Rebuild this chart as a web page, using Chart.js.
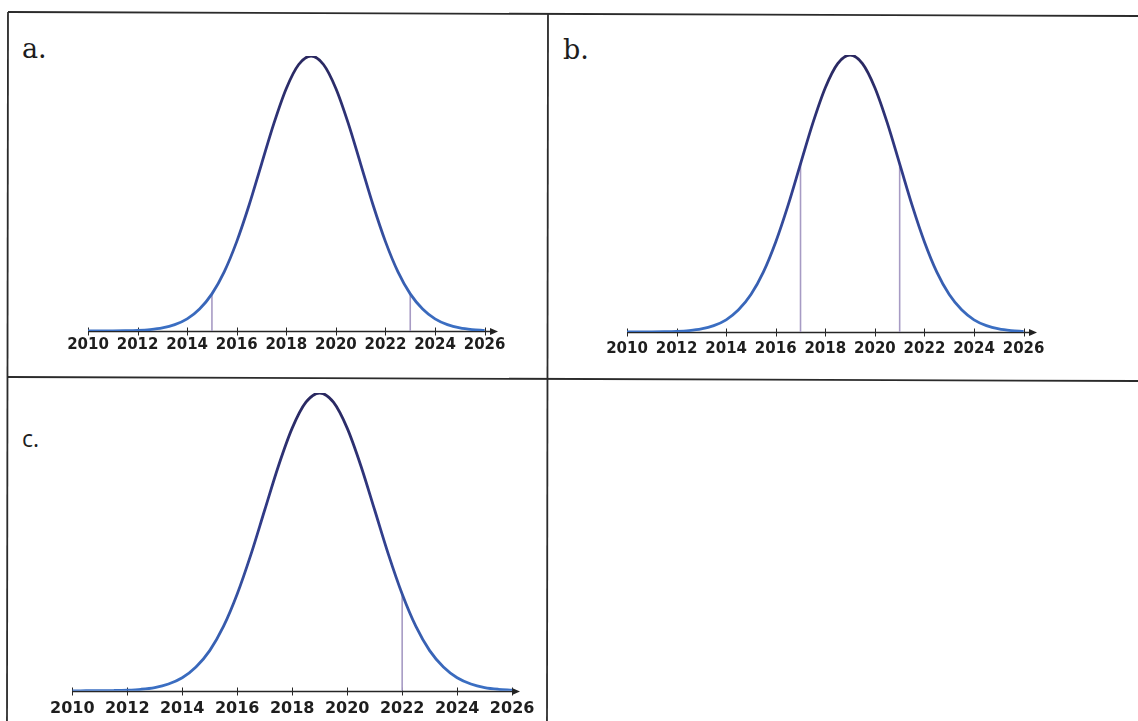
<!DOCTYPE html>
<html>
<head>
<meta charset="utf-8">
<script src="https://cdn.jsdelivr.net/npm/chart.js@4.4.1/dist/chart.umd.min.js"></script>
<style>
	body { margin: 0; background: #fff; width: 1138px; height: 721px; overflow: hidden; position: relative; }
	canvas { position: absolute; }
	#grid { position: absolute; left: 0; top: 0; }
	.huruf { position: absolute; color: #1d1d1d; line-height: 1; }
</style>
</head>
<body>
<svg id="grid" width="1138" height="721">
	<line x1="8" y1="12" x2="1138" y2="16" stroke="#2b2b2b" stroke-width="1.8"/>
	<line x1="8" y1="377" x2="1138" y2="381" stroke="#2b2b2b" stroke-width="1.8"/>
	<line x1="8" y1="12" x2="7" y2="721" stroke="#2b2b2b" stroke-width="1.8"/>
	<line x1="548" y1="14" x2="547" y2="721" stroke="#2b2b2b" stroke-width="1.8"/>
</svg>

<div class="huruf" style="left:22px; top:35px; font-family:'DejaVu Serif'; font-size:27px;">a.</div>
<div class="huruf" style="left:563px; top:36px; font-family:'DejaVu Serif'; font-size:27px;">b.</div>
<div class="huruf" style="left:22px; top:427px; font-family:'Open Sans'; font-size:23px;">c.</div>

<canvas id="chartA" width="469" height="313" style="left:58px; top:50px;"></canvas>
<canvas id="chartB" width="469" height="321" style="left:597px; top:49px;"></canvas>
<canvas id="chartC" width="507" height="343" style="left:42px; top:387px;"></canvas>

<script>
// data kurva (tinggi relatif, puncak = 100)
var tahun = [2010, 2010.5, 2011, 2011.5, 2012, 2012.5, 2013, 2013.5, 2014, 2014.5, 2015, 2015.5,
	2016, 2016.5, 2017, 2017.5, 2018, 2018.5, 2019, 2019.5, 2020, 2020.5, 2021, 2021.5,
	2022, 2022.5, 2023, 2023.5, 2024, 2024.5, 2025, 2025.5, 2026];
var tinggi = [0, 0.01, 0.03, 0.09, 0.22, 0.51, 1.1, 2.3, 4.4, 8.0, 13.5, 21.6,
	32.5, 45.8, 60.7, 75.5, 88.2, 96.9, 100, 96.9, 88.2, 75.5, 60.7, 45.8,
	32.5, 21.6, 13.5, 8.0, 4.4, 2.3, 1.1, 0.51, 0.22];
var labelTahun = [2010, 2012, 2014, 2016, 2018, 2020, 2022, 2024, 2026];

// garis tegak tiap gambar
var garisA = [2015, 2023];
var garisB = [2017, 2021];
var garisC = [2022];

var sumbuPlugin = {
	id: 'sumbu',
	beforeDatasetsDraw: function (chart) {
		var ctx = chart.ctx;
		var area = chart.chartArea;
		var sx = chart.scales.x;
		var y = Math.round(area.bottom) + 0.5;

		ctx.save();
		ctx.strokeStyle = '#262626';
		ctx.lineWidth = 1.6;
		ctx.beginPath();
		ctx.moveTo(area.left, y);
		ctx.lineTo(area.right - 4, y);
		ctx.stroke();

		ctx.lineWidth = 1;
		sx.ticks.forEach(function (t) {
			var px = Math.round(sx.getPixelForValue(t.value)) + 0.5;
			ctx.beginPath();
			ctx.moveTo(px, y - 4);
			ctx.lineTo(px, y + 4);
			ctx.stroke();
		});

		// panah
		ctx.fillStyle = '#222';
		ctx.beginPath();
		ctx.moveTo(area.right + 1, y);
		ctx.lineTo(area.right - 7, y - 3.5);
		ctx.lineTo(area.right - 7, y + 3.5);
		ctx.closePath();
		ctx.fill();
		ctx.restore();
	}
}; // end - sumbuPlugin

var kurva = {
	startUp: function () {
		kurva.buatChart('chartA', garisA, 2026.5, 15, 5);
		kurva.buatChart('chartB', garisB, 2026.5, 15, 8);
		kurva.buatChart('chartC', garisC, 2026.25, 16, 8);
	}, // end - startUp

	tinggiDi: function (th) {
		var idx = tahun.indexOf(th);
		return idx >= 0 ? tinggi[idx] : 0;
	}, // end - tinggiDi

	buatChart: function (id, garis, maxX, ukuranFont, jarakLabel) {
		var titik = [];
		for (var i = 0; i < tahun.length; i++) {
			titik.push({ x: tahun[i], y: tinggi[i] });
		}

		var datasets = [{
			data: titik,
			borderColor: function (c) {
				var area = c.chart.chartArea;
				if (!area) return '#34509c';
				var g = c.chart.ctx.createLinearGradient(0, area.top, 0, area.bottom);
				g.addColorStop(0, '#2a2860');
				g.addColorStop(0.45, '#313c8a');
				g.addColorStop(1, '#3b70c4');
				return g;
			},
			borderWidth: 2.8,
			pointRadius: 0,
			cubicInterpolationMode: 'monotone',
			fill: false,
			order: 1
		}];

		for (var j = 0; j < garis.length; j++) {
			datasets.push({
				data: [{ x: garis[j], y: 0 }, { x: garis[j], y: kurva.tinggiDi(garis[j]) }],
				borderColor: '#a79bc4',
				borderWidth: 1.6,
				pointRadius: 0,
				fill: false,
				order: 2
			});
		}

		new Chart(id, {
			type: 'line',
			data: { datasets: datasets },
			options: {
				responsive: false,
				animation: false,
				layout: { padding: { left: 30, right: 30, top: 6, bottom: 4 } },
				plugins: { legend: { display: false }, tooltip: { enabled: false } },
				scales: {
					x: {
						type: 'linear',
						min: 2010,
						max: maxX,
						afterBuildTicks: function (scale) {
							scale.ticks = labelTahun.map(function (v) { return { value: v }; });
						},
						grid: { display: false, drawTicks: false },
						border: { display: false },
						ticks: {
							autoSkip: false,
							maxRotation: 0,
							padding: jarakLabel,
							color: '#1e1e1e',
							font: { family: 'DejaVu Sans', weight: 'bold', size: ukuranFont },
							callback: function (v) { return String(v); }
						}
					},
					y: { display: false, min: 0, max: 100 }
				}
			},
			plugins: [sumbuPlugin]
		});
	} // end - buatChart
};

kurva.startUp();
</script>
</body>
</html>
